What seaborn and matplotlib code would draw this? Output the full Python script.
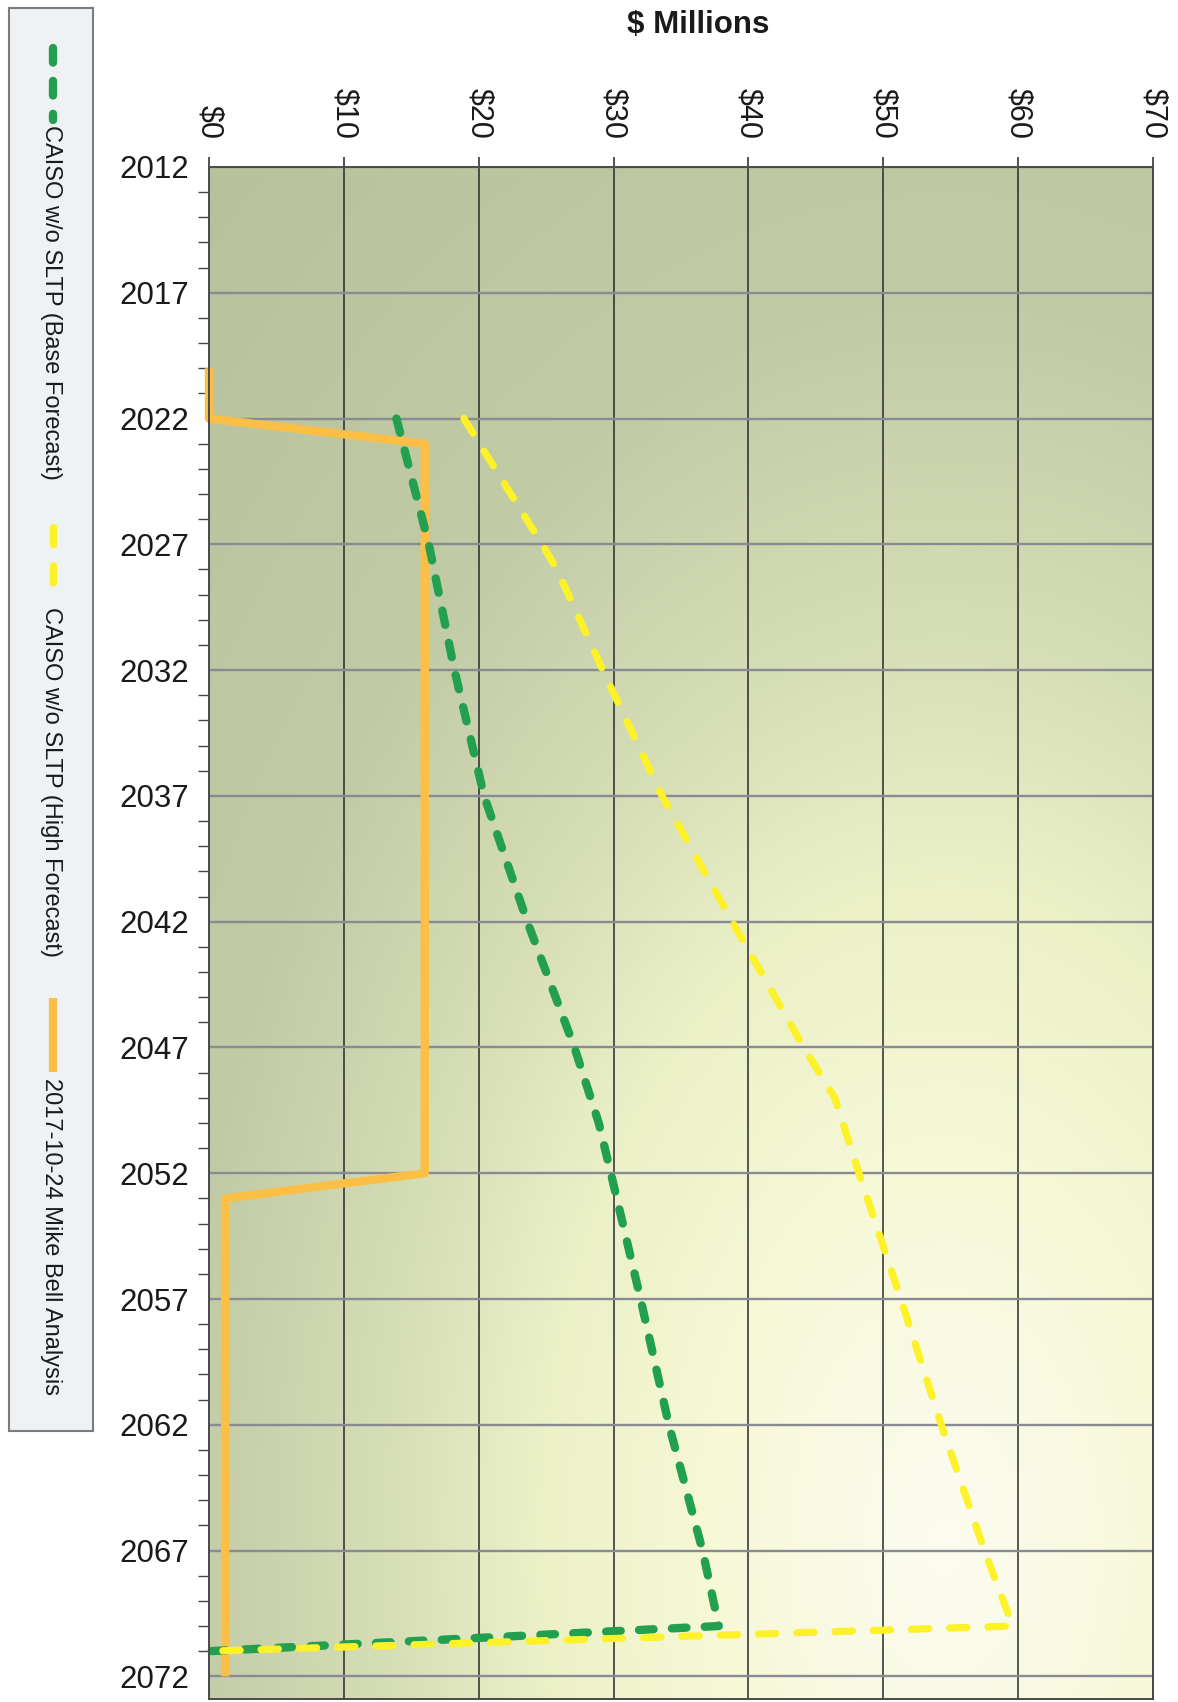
import numpy as np
import pandas as pd
import matplotlib
matplotlib.use("Agg")
import matplotlib.pyplot as plt
from matplotlib.lines import Line2D
import seaborn as sns

# ---------------------------------------------------------------- data
base_years = [2022, 2027, 2032, 2037, 2042, 2047, 2050, 2052, 2057, 2062, 2067, 2070, 2071]
base_values = [13.9, 16.3, 18.2, 20.4, 23.6, 27.1, 28.9, 29.8, 32.0, 34.1, 36.6, 37.8, 0.0]

high_years = [2022, 2027, 2028, 2032, 2037, 2042, 2047, 2049, 2052, 2057, 2062, 2067, 2070, 2071]
high_values = [18.9, 24.7, 25.8, 29.2, 33.6, 38.8, 44.1, 46.4, 48.2, 51.3, 54.3, 57.5, 59.6, 0.0]

bell_years = [2020, 2022, 2023, 2052, 2053, 2072]
bell_values = [0.0, 0.0, 16.0, 16.0, 1.2, 1.2]

series_names = [
    "CAISO w/o SLTP (Base Forecast)",
    "CAISO w/o SLTP (High Forecast)",
    "2017-10-24 Mike Bell Analysis",
]
year_ticks = list(range(2012, 2073, 5))
dollar_ticks = [0, 10, 20, 30, 40, 50, 60, 70]
dollar_labels = ["$0", "$10", "$20", "$30", "$40", "$50", "$60", "$70"]
axis_title = "$ Millions"

# ---------------------------------------------------------------- style
sns.set_style("white")
plt.rcParams["font.family"] = ["Liberation Sans", "DejaVu Sans"]

GREEN = "#22a050"
YELLOW = "#fdf12a"
ORANGE = "#fbbf45"

styles = [
    dict(color=GREEN, linewidth=6.0, linestyle=(0, (1.75, 2.2)), dash_capstyle="round", zorder=4),
    dict(color=YELLOW, linewidth=5.2, linestyle=(0, (2.4, 2.9)), dash_capstyle="round", zorder=5),
    dict(color=ORANGE, linewidth=6.0, linestyle="-", solid_capstyle="butt", zorder=3),
]

FW, FH = 1178, 1702
fig = plt.figure(figsize=(FW / 100, FH / 100), dpi=100)
fig.patch.set_facecolor("white")

ax_left, ax_right, ax_top, ax_bot = 209, 1153, 167, 1699
ax = fig.add_axes([ax_left / FW, 1 - ax_bot / FH,
                   (ax_right - ax_left) / FW, (ax_bot - ax_top) / FH])

y_lo, y_hi = 2012, 2072.9
x_lo, x_hi = 0, 70

# soft radial shading of the plot area
GH, GW = 600, 360
yy, xx = np.mgrid[0:GH, 0:GW]
xf = (xx + 0.5) / GW
yf = 1 - (yy + 0.5) / GH
aw, ah = ax_right - ax_left, ax_bot - ax_top
d = np.hypot((xf - 0.78) * aw / 800, (yf - 0.10) * ah / 1300)
stop_d = [0.0, 0.3, 0.5, 0.7, 0.95, 1.4]
stop_rgb = np.array([(252, 252, 240), (246, 248, 214), (236, 241, 200),
                     (214, 222, 182), (193, 203, 166), (183, 193, 155)]) / 255
shade = np.stack([np.interp(d, stop_d, stop_rgb[:, k]) for k in range(3)], axis=-1)
ax.imshow(shade, extent=(x_lo, x_hi, y_hi, y_lo), origin="upper",
          aspect="auto", zorder=0, interpolation="bilinear")

# series
frames = [
    pd.DataFrame({"year": base_years, "value": base_values}),
    pd.DataFrame({"year": high_years, "value": high_values}),
    pd.DataFrame({"year": bell_years, "value": bell_values}),
]
for df, st in zip([frames[2], frames[0], frames[1]], [styles[2], styles[0], styles[1]]):
    sns.lineplot(data=df, x="value", y="year", orient="y", estimator=None,
                 legend=False, ax=ax, clip_on=False, **st)

# axes limits, ticks
ax.set_xlim(x_lo, x_hi)
ax.set_ylim(y_hi, y_lo)
ax.xaxis.tick_top()
ax.set_xticks(dollar_ticks)
ax.set_xticklabels(dollar_labels)
ax.set_yticks(year_ticks)
ax.set_yticks(range(2012, 2073), minor=True)
ax.set_yticklabels([str(y) for y in year_ticks])

ax.tick_params(axis="x", which="major", direction="out", length=7, width=1.2,
               color="#333333", pad=13, labelsize=22, labelrotation=270,
               labelcolor="#1a1a1a")
ax.tick_params(axis="y", which="major", direction="inout", length=14.4, width=1.2,
               color="#333333", pad=7, labelsize=22.5, labelcolor="#1a1a1a")
ax.tick_params(axis="y", which="minor", direction="out", length=8, width=1.0,
               color="#444444", left=True)
ax.tick_params(axis="x", which="minor", top=False, bottom=False)

# grid
ax.set_axisbelow(True)
ax.yaxis.grid(True, which="major", color="#8a8a94", lw=1.7, zorder=1)
ax.xaxis.grid(True, which="major", color="#2a2a2a", lw=1.1, zorder=1)
for s in ax.spines.values():
    s.set_color("#4a4a4a")
    s.set_linewidth(1.4)
    s.set_zorder(6)

ax.set_ylabel("")
ax.set_xlabel(axis_title, fontsize=22.5, fontweight="bold", color="#1a1a1a")
ax.xaxis.set_label_position("top")
ax.xaxis.set_label_coords((698 - ax_left) / aw, 1 + (ax_top - 25) / ah)
ax.xaxis.label.set_verticalalignment("center")

# legend panel, drawn vertically on the left
lax = fig.add_axes([9 / FW, 1 - 1431 / FH, 84 / FW, 1423 / FH])
lax.set_xlim(0, 1)
lax.set_ylim(0, 1)
lax.set_facecolor("#eef2f4")
lax.set_xticks([])
lax.set_yticks([])
for s in lax.spines.values():
    s.set_color("#7c7c7c")
    s.set_linewidth(1.5)

def rel(py):
    return 1 - (py - 8) / 1423

legend_rows = [(48, 120, 125), (527, 600, 607), (998, 1072, 1078)]
for name, st, (l0, l1, t0) in zip(series_names, styles, legend_rows):
    kw = {k: v for k, v in st.items() if k != "zorder"}
    lax.add_line(Line2D([0.52, 0.52], [rel(l0), rel(l1)], **kw))
    lax.text(0.5, rel(t0), name, rotation=270, ha="center", va="top",
             fontsize=17, color="#1a1a1a")

fig.savefig("out.png", dpi=100)
